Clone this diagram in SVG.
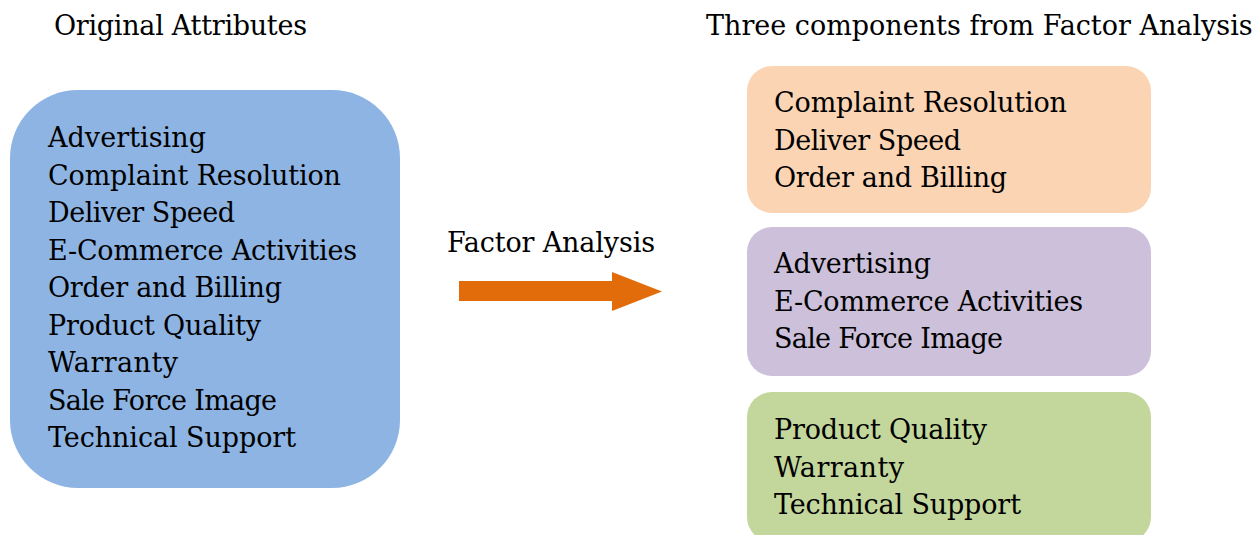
<svg xmlns="http://www.w3.org/2000/svg" width="1260" height="535" viewBox="0 0 1260 535">
<style>
text{font-family:"DejaVu Serif","Liberation Serif",serif;font-size:27px;fill:#000}
</style>
<rect width="1260" height="535" fill="#fff"/>
<g id="title-left"><text x="54" y="35" textLength="253">Original Attributes</text></g>
<g id="title-right"><text x="706" y="35">Three components from Factor Analysis</text></g>
<g id="original">
<rect x="10" y="90" width="390" height="398" rx="68" ry="68" fill="#8EB4E3"/>
<text x="48" y="147" textLength="158">Advertising</text>
<text x="48" y="184.5" textLength="293">Complaint Resolution</text>
<text x="48" y="222" textLength="187">Deliver Speed</text>
<text x="48" y="259.5" textLength="309">E-Commerce Activities</text>
<text x="48" y="297" textLength="234">Order and Billing</text>
<text x="48" y="334.5" textLength="213">Product Quality</text>
<text x="48" y="372" textLength="130">Warranty</text>
<text x="48" y="409.5" textLength="229">Sale Force Image</text>
<text x="48" y="447" textLength="248">Technical Support</text>
</g>
<g id="connectors">
<text x="447" y="252" textLength="208">Factor Analysis</text>
<polygon points="459,281 612,281 612,272 662,291.5 612,311 612,301 459,301" fill="#E36C0A"/>
</g>
<g id="comp1">
<rect x="747" y="66" width="404" height="147" rx="25" ry="25" fill="#FBD4B4"/>
<text x="774" y="112" textLength="293">Complaint Resolution</text>
<text x="774" y="149.5" textLength="187">Deliver Speed</text>
<text x="774" y="187" textLength="233">Order and Billing</text>
</g>
<g id="comp2">
<rect x="747" y="227" width="404" height="149" rx="25" ry="25" fill="#CCC0DA"/>
<text x="774" y="273" textLength="157">Advertising</text>
<text x="774" y="310.5" textLength="309">E-Commerce Activities</text>
<text x="774" y="348" textLength="229">Sale Force Image</text>
</g>
<g id="comp3">
<rect x="747" y="392" width="404" height="150" rx="25" ry="25" fill="#C3D69B"/>
<text x="774" y="439" textLength="213">Product Quality</text>
<text x="774" y="476.5" textLength="130">Warranty</text>
<text x="774" y="514" textLength="247">Technical Support</text>
</g>
</svg>
